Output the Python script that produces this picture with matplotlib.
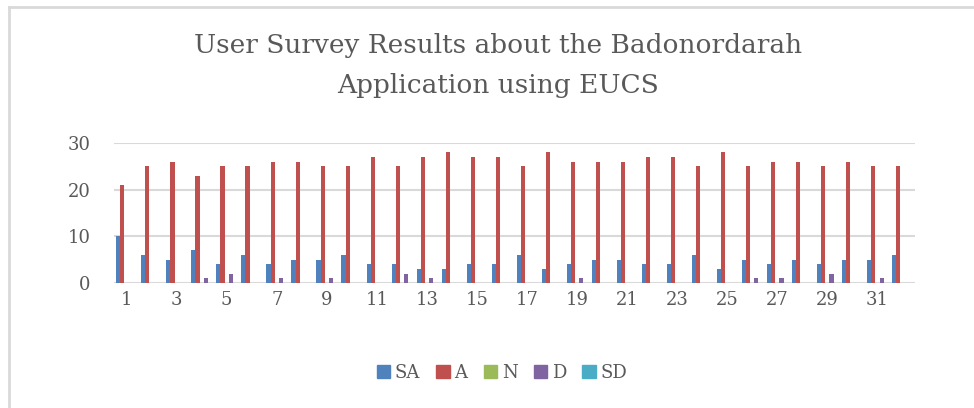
import matplotlib
matplotlib.use("Agg")
import matplotlib.pyplot as plt
from matplotlib.lines import Line2D
import numpy as np

categories = list(range(1, 33))
series_names = ["SA", "A", "N", "D", "SD"]
SA = [10, 6, 5, 7, 4, 6, 4, 5, 5, 6, 4, 4, 3, 3, 4, 4, 6, 3, 4, 5, 5, 4, 4, 6, 3, 5, 4, 5, 4, 5, 5, 6]
A = [21, 25, 26, 23, 25, 25, 26, 26, 25, 25, 27, 25, 27, 28, 27, 27, 25, 28, 26, 26, 26, 27, 27, 25, 28, 25, 26, 26, 25, 26, 25, 25]
N = [0] * 32
D = [0, 0, 0, 1, 2, 0, 1, 0, 1, 0, 0, 2, 1, 0, 0, 0, 0, 0, 1, 0, 0, 0, 0, 0, 0, 1, 1, 0, 2, 0, 1, 0]
SD = [0] * 32
xtick_labels = [str(c) for c in categories[::2]]
yticks = [0, 10, 20, 30]

colors = ["#4F81BD", "#C0504D", "#9BBB59", "#8064A2", "#4BACC6"]
text_color = "#595959"
font = "DejaVu Serif"

fig = plt.figure(figsize=(9.74, 4.08), dpi=100)
ax = fig.add_axes([114 / 974, 1 - 283 / 408, (915 - 114) / 974, (283 - 143) / 408])

x = np.arange(len(categories))
w = 0.165
data = [SA, A, N, D, SD]
for k, (name, vals, c) in enumerate(zip(series_names, data, colors)):
    ax.bar(x + (k - 2) * w, vals, width=w, color=c, label=name, zorder=3, linewidth=0)

ax.set_xlim(-0.5, len(categories) - 0.5)
ax.set_ylim(0, 30)
ax.set_yticks(yticks)
ax.set_yticklabels([str(v) for v in yticks], fontsize=13, color=text_color, family=font)
ax.set_xticks(x[::2])
ax.set_xticklabels(xtick_labels, fontsize=13, color=text_color, family=font)
ax.tick_params(axis="both", length=0)
ax.tick_params(axis="y", pad=17)
ax.tick_params(axis="x", pad=6)
ax.grid(axis="y", color="#D9D9D9", linewidth=1.5, zorder=0)
for s in ax.spines.values():
    s.set_visible(False)

fig.text(498 / 974, 1 - 45 / 408, "User Survey Results about the Badonordarah",
         ha="center", va="center", fontsize=19, color=text_color, family=font)
fig.text(498 / 974, 1 - 86 / 408, "Application using EUCS",
         ha="center", va="center", fontsize=19, color=text_color, family=font)

handles = [plt.Rectangle((0, 0), 1, 1, color=c) for c in colors]
leg = fig.legend(handles, series_names, loc="center", bbox_to_anchor=(502 / 974, 1 - 373 / 408),
                 ncol=5, frameon=False, prop={"family": font, "size": 13},
                 handlelength=0.75, handleheight=0.75, handletextpad=0.25, columnspacing=0.9)
for t in leg.get_texts():
    t.set_color(text_color)

# chart border (left and top edges visible)
fig.add_artist(Line2D([9 / 974, 9 / 974], [0, 1 - 7 / 408], transform=fig.transFigure,
                      color="#D9D9D9", linewidth=2))
fig.add_artist(Line2D([9 / 974, 1], [1 - 7 / 408, 1 - 7 / 408], transform=fig.transFigure,
                      color="#D9D9D9", linewidth=2))

fig.savefig("out.png", dpi=100)
